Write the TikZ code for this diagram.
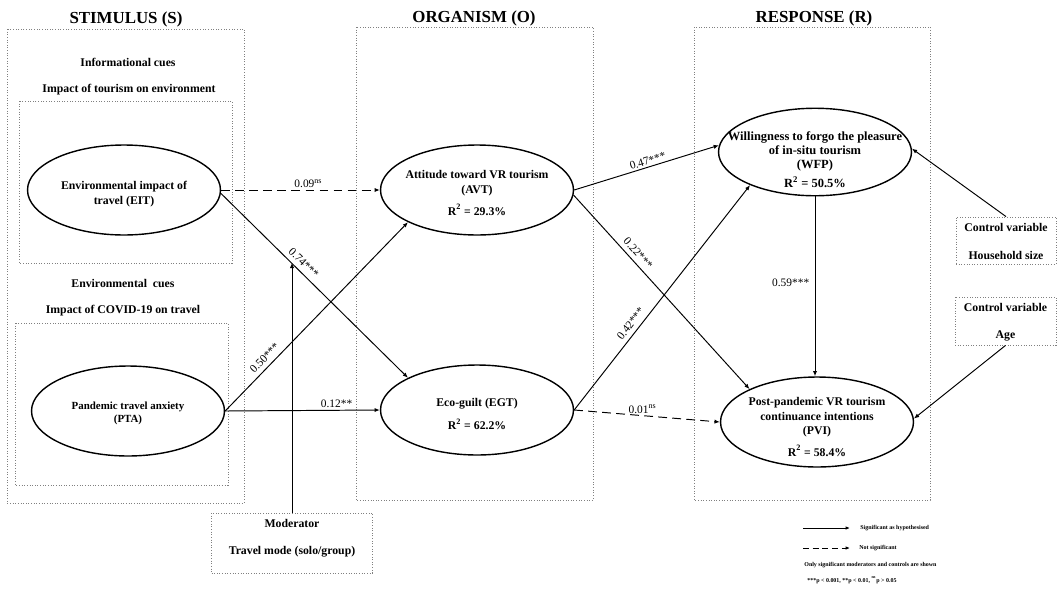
\documentclass[tikz,border=0pt]{standalone}
\usepackage{fontspec}
\setmainfont{Liberation Serif}
\usetikzlibrary{shapes.geometric,arrows.meta}
\begin{document}
\begin{tikzpicture}[x=0.02cm,y=-0.02cm,
 oval/.style={draw, ellipse, line width=0.8pt, minimum width=3.86cm, minimum height=1.8cm, inner sep=0pt},
 txt/.style={font=\bfseries\fontsize{6.7}{8.4}\selectfont, align=center, inner sep=0pt},
 frame/.style={draw=gray, densely dotted, line width=0.5pt},
 title/.style={font=\bfseries\fontsize{9.6}{11}\selectfont, inner sep=0pt},
 conn/.style={-{Latex[length=3pt,width=2.4pt]}, line width=0.55pt},
 ns/.style={conn, dash pattern=on 5pt off 3pt},
 lab/.style={font=\fontsize{6.5}{7}\selectfont, inner sep=1pt},
 leg/.style={font=\bfseries\fontsize{3.4}{4}\selectfont, inner sep=0pt, anchor=west},
]
\useasboundingbox (0,0) rectangle (1059,589);

% titles
\node[title] (tS) at (126,19) {STIMULUS (S)};
\node[title] (tO) at (474,18) {ORGANISM (O)};
\node[title] (tR) at (814,18) {RESPONSE (R)};

% frames
\draw[frame] (7,29) rectangle (244,503);
\draw[frame] (19,101) rectangle (232,263);
\draw[frame] (15,323) rectangle (228,485);
\draw[frame] (356,27) rectangle (593,500);
\draw[frame] (694,27) rectangle (930,500);

% stimulus headings
\node[txt] (hInf) at (128,62) {Informational cues};
\node[txt] (hImp1) at (129,90) {Impact of tourism on environment};
\node[txt] (hEnv) at (123,283) {Environmental~ cues};
\node[txt] (hImp2) at (123,311) {Impact of COVID-19 on travel};

% ellipses
\node[oval] (EIT) at (124,190) {};
\node[txt] (EITt) at (124,194) {Environmental impact of\\travel (EIT)};
\node[oval] (PTA) at (128,411) {};
\node[txt, font=\bfseries\fontsize{6.2}{7.5}\selectfont] (PTAt) at (128,413.5) {Pandemic travel anxiety\\(PTA)};
\node[oval] (AVT) at (477,190) {};
\node[txt] (AVTt) at (477,193) {Attitude toward VR tourism\\(AVT)\\[4pt]R\textsuperscript{2} = 29.3\%};
\node[oval] (EGT) at (477,410) {};
\node[txt] (EGTt) at (477,414) {Eco-guilt (EGT)\\[5pt]R\textsuperscript{2} = 62.2\%};
\node[oval, minimum height=1.75cm] (WFP) at (815,152) {};
\node[txt, font=\bfseries\fontsize{7.1}{8}\selectfont] (WFPt) at (815,159.5) {Willingness to forgo the pleasure\\of in-situ tourism\\(WFP)\\[2.8pt]R\textsuperscript{2} = 50.5\%};
\node[oval] (PVI) at (817,422) {};
\node[txt, font=\bfseries\fontsize{6.7}{8}\selectfont] (PVIt) at (817,427) {Post-pandemic VR tourism\\continuance intentions\\(PVI)\\[4.5pt]R\textsuperscript{2} = 58.4\%};

% moderator and controls
\node[frame, minimum width=3.22cm, minimum height=1.2cm, inner sep=0pt] (MOD) at (292,543) {};
\node[txt] (MODa) at (292,523) {Moderator};
\node[txt] (MODb) at (292,552) {Travel mode (solo/group)};
\node[frame, minimum width=2cm, minimum height=0.94cm, inner sep=0pt] (HH) at (1006,240.5) {};
\node[txt] (HHa) at (1006,227) {Control variable};
\node[txt] (HHb) at (1006,255) {Household size};
\node[frame, minimum width=2.02cm, minimum height=0.96cm, inner sep=0pt] (AGE) at (1005.5,321) {};
\node[txt] (AGEa) at (1005.5,307) {Control variable};
\node[txt] (AGEb) at (1005.5,336) {Age};

% paths
\draw[ns] (EIT.east) -- node[lab, above, pos=0.55] {0.09\textsuperscript{ns}} (AVT.west);
\draw[conn] (EIT.-2) -- coordinate[pos=0.376] (modpt) node[lab, sloped, above=1.5pt, pos=0.41] {0.74***} (EGT.155);
\draw[conn] (MOD.north) -- (MOD.north |- modpt);
\draw[conn] (PTA.east) -- node[lab, sloped, above=1.5pt, pos=0.25] {0.50***} (AVT.205);
\draw[conn] (PTA.east) -- node[lab, above, pos=0.72] {0.12**} (EGT.west);
\draw[conn] (AVT.east) -- node[lab, sloped, above, pos=0.52] {0.47***} (WFP.176);
\draw[conn] (AVT.-3) -- node[lab, sloped, above=1.5pt, pos=0.33] {0.22***} (PVI.154);
\draw[conn] (EGT.east) -- node[lab, sloped, above=1.5pt, pos=0.36] {0.42***} (WFP.207);
\draw[ns] (EGT.east) -- node[lab, above, pos=0.47] {0.01\textsuperscript{ns}} (PVI.west);
\draw[conn] (WFP.south) -- node[lab, left=2pt, pos=0.48] {0.59***} (WFP.south |- PVI.north);
\draw[conn] (HH.north) -- (WFP.2);
\draw[conn] (AGE.south) -- (PVI.2);

% legend
\coordinate (l1a) at (803,528);
\coordinate (l1b) at (850,528);
\coordinate (l2a) at (803,548);
\coordinate (l2b) at (850,548);
\draw[-{Latex[length=2.5pt,width=2pt]}, line width=0.5pt] (l1a) -- (l1b);
\draw[-{Latex[length=2.5pt,width=2pt]}, line width=0.5pt, dash pattern=on 3.5pt off 2pt] (l2a) -- (l2b);
\node[leg] (lg1) at (860,528) {Significant as hypothesised};
\node[leg] (lg2) at (859,548) {Not significant};
\node[leg] (lg3) at (804,565) {Only significant moderators and controls are shown};
\node[leg] (lg4) at (807,580) {***p < 0.001, **p < 0.01, \textsuperscript{ns}p > 0.05};
\end{tikzpicture}
\end{document}
